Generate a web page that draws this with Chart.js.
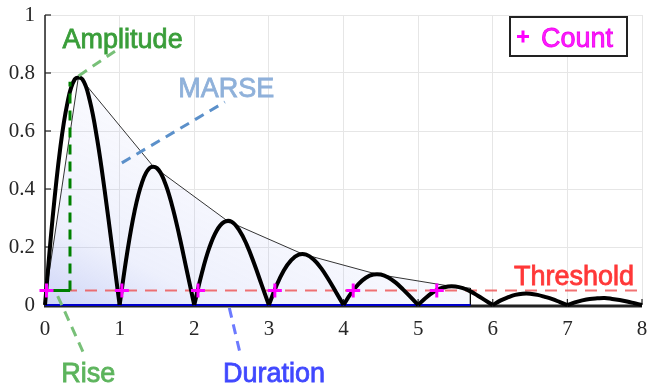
<!DOCTYPE html>
<html lang="en">
<head>
<meta charset="UTF-8">
<title>Hit envelope</title>
<script src="https://cdn.jsdelivr.net/npm/chart.js"></script>
<style>
  html, body { margin: 0; padding: 0; background: #fff; }
  #box { width: 648px; height: 388px; }
</style>
</head>
<body>
<div id="box"><canvas id="grafico" width="648" height="388"></canvas></div>
<script>
// sample positions and rectified signal
const xs = [
  0, 0.1, 0.2, 0.3, 0.4, 0.5, 0.6, 0.7, 0.8, 0.9,
  1, 1.1, 1.2, 1.3, 1.4, 1.5, 1.6, 1.7, 1.8, 1.9,
  2, 2.1, 2.2, 2.3, 2.4, 2.5, 2.6, 2.7, 2.8, 2.9,
  3, 3.1, 3.2, 3.3, 3.4, 3.5, 3.6, 3.7, 3.8, 3.9,
  4, 4.1, 4.2, 4.3, 4.4, 4.5, 4.6, 4.7, 4.8, 4.9,
  5, 5.1, 5.2, 5.3, 5.4, 5.5, 5.6, 5.7, 5.8, 5.9,
  6, 6.1, 6.2, 6.3, 6.4, 6.5, 6.6, 6.7, 6.8, 6.9,
  7, 7.1, 7.2, 7.3, 7.4, 7.5, 7.6, 7.7, 7.8, 7.9,
  8
];
const signal = [
  0, 0.294, 0.532, 0.696, 0.779, 0.779, 0.705, 0.570, 0.394, 0.197,
  0, 0.178, 0.323, 0.422, 0.472, 0.472, 0.427, 0.346, 0.239, 0.119,
  0, 0.108, 0.196, 0.256, 0.286, 0.287, 0.259, 0.210, 0.145, 0.072,
  0, 0.066, 0.119, 0.155, 0.174, 0.174, 0.157, 0.127, 0.088, 0.044,
  0, 0.040, 0.072, 0.094, 0.105, 0.105, 0.095, 0.077, 0.053, 0.027,
  0, 0.024, 0.044, 0.057, 0.064, 0.064, 0.058, 0.047, 0.032, 0.016,
  0, 0.015, 0.026, 0.035, 0.039, 0.039, 0.035, 0.028, 0.020, 0.010,
  0, 0.009, 0.016, 0.021, 0.023, 0.024, 0.021, 0.017, 0.012, 0.006,
  0
];

// envelope through the peaks (MARSE area)
const envX = [0.02, 0.45, 1.45, 2.45, 3.45, 4.45, 5.45, 5.70, 5.70];
const envY = [0.05, 0.79, 0.478, 0.289, 0.176, 0.106, 0.064, 0.058, 0];

// threshold crossings (counts)
const countX = [0.02, 1.03, 2.05, 3.08, 4.13, 5.25];
const countY = [0.05, 0.05, 0.05, 0.05, 0.05, 0.05];

const threshX = [0, 8];
const threshY = [0.05, 0.05];
const durX = [0, 5.7];
const durY = [0, 0];
const riseHX = [0.02, 0.335];
const riseHY = [0.05, 0.05];
const riseVX = [0.335, 0.335];
const riseVY = [0.05, 0.77];

// leader lines of the labels
const ampLeadX = [0.45, 1.0];
const ampLeadY = [0.79, 0.886];
const marseLeadX = [1.03, 2.41];
const marseLeadY = [0.49, 0.70];
const riseLeadX = [0.17, 0.51];
const riseLeadY = [0.031, -0.162];
const durLeadX = [2.47, 2.61];
const durLeadY = [-0.01, -0.162];

const xTicks = [0, 1, 2, 3, 4, 5, 6, 7, 8];
const yTicks = [0, 0.2, 0.4, 0.6, 0.8, 1];

const rotulos = [
  { texto: 'Amplitude', x: 1.04, y: 0.886, cor: '#3a9e3a' },
  { texto: 'MARSE', x: 2.43, y: 0.717, cor: '#8fb1da' },
  { texto: 'Rise', x: 0.58, y: -0.266, cor: '#5cb45c' },
  { texto: 'Duration', x: 3.07, y: -0.266, cor: '#4048ff' },
  { texto: 'Threshold', x: 7.09, y: 0.069, cor: '#ff3838' }
];

function pontos(px, py) {
  return px.map((v, i) => ({ x: v, y: py[i] }));
}

function linha(px, py, cor, largura, traco, ordem) {
  return {
    data: pontos(px, py),
    borderColor: cor,
    borderWidth: largura,
    borderDash: traco,
    pointRadius: 0,
    fill: false,
    tension: 0,
    clip: false,
    order: ordem
  };
}

// one dataset per arch so the cusps stay sharp
const arcos = [];
for (let k = 0; k < 8; k++) {
  arcos.push({
    data: pontos(xs.slice(k * 10, k * 10 + 11), signal.slice(k * 10, k * 10 + 11)),
    borderColor: '#000',
    borderWidth: 4,
    pointRadius: 0,
    tension: 0.4,
    fill: false,
    clip: false,
    order: 5
  });
}

function gradiente(ctx) {
  const chart = ctx.chart;
  const area = chart.chartArea;
  if (!area) return 'rgba(120,135,230,0.2)';
  const sx = chart.scales.x, sy = chart.scales.y;
  const g = chart.ctx.createLinearGradient(
    sx.getPixelForValue(0), sy.getPixelForValue(0),
    sx.getPixelForValue(1.5), sy.getPixelForValue(0.8));
  g.addColorStop(0, 'rgba(110,130,230,0.34)');
  g.addColorStop(0.3, 'rgba(120,140,235,0.13)');
  g.addColorStop(1, 'rgba(140,150,240,0.02)');
  return g;
}

const eixos = {
  id: 'eixos',
  beforeDatasetsDraw(chart) {
    const { ctx, chartArea: a, scales } = chart;
    ctx.save();
    ctx.strokeStyle = '#222';
    ctx.lineWidth = 1.5;
    ctx.beginPath();
    ctx.moveTo(a.left, a.top);
    ctx.lineTo(a.left, a.bottom);
    ctx.stroke();
    ctx.lineWidth = 1.2;
    yTicks.forEach(v => {
      const p = scales.y.getPixelForValue(v);
      ctx.beginPath();
      ctx.moveTo(a.left, p);
      ctx.lineTo(a.left + 6, p);
      ctx.stroke();
    });
    xTicks.forEach(v => {
      const p = scales.x.getPixelForValue(v);
      ctx.beginPath();
      ctx.moveTo(p, a.bottom);
      ctx.lineTo(p, a.bottom - 6);
      ctx.stroke();
    });
    ctx.lineWidth = 3;
    ctx.beginPath();
    ctx.moveTo(a.left - 1, a.bottom + 1);
    ctx.lineTo(a.right, a.bottom + 1);
    ctx.stroke();
    ctx.restore();
  }
};

const textos = {
  id: 'textos',
  afterDatasetsDraw(chart) {
    const { ctx, chartArea: a, scales } = chart;
    ctx.save();
    ctx.font = '27px "Liberation Sans", Arial, sans-serif';
    ctx.textAlign = 'center';
    ctx.textBaseline = 'alphabetic';
    ctx.lineWidth = 0.8;
    rotulos.forEach(r => {
      const px = scales.x.getPixelForValue(r.x);
      const py = scales.y.getPixelForValue(r.y);
      ctx.fillStyle = r.cor;
      ctx.strokeStyle = r.cor;
      ctx.fillText(r.texto, px, py);
      ctx.strokeText(r.texto, px, py);
    });

    // legend box
    const bx = a.right - 132, by = a.top + 2, bw = 117, bh = 39;
    ctx.fillStyle = '#fff';
    ctx.fillRect(bx, by, bw, bh);
    ctx.strokeStyle = '#222';
    ctx.lineWidth = 2;
    ctx.strokeRect(bx, by, bw, bh);
    const cy = by + bh / 2;
    ctx.strokeStyle = '#ff00ff';
    ctx.lineWidth = 3;
    ctx.beginPath();
    ctx.moveTo(bx + 7, cy); ctx.lineTo(bx + 19, cy);
    ctx.moveTo(bx + 13, cy - 6); ctx.lineTo(bx + 13, cy + 6);
    ctx.stroke();
    ctx.fillStyle = '#ff1aff';
    ctx.strokeStyle = '#ee00ee';
    ctx.lineWidth = 0.8;
    ctx.textAlign = 'left';
    ctx.fillText('Count', bx + 31, cy + 10);
    ctx.strokeText('Count', bx + 31, cy + 10);
    ctx.restore();
  }
};

new Chart(document.getElementById('grafico'), {
  type: 'line',
  data: {
    datasets: [
      {
        data: pontos(envX, envY),
        borderColor: '#000',
        borderWidth: 0.8,
        pointRadius: 0,
        tension: 0,
        fill: 'origin',
        backgroundColor: gradiente,
        order: 10
      },
      linha(threshX, threshY, 'rgba(238,80,80,0.8)', 2, [12, 8], 8),
      linha(durX, durY, '#0000cc', 2, [], 7),
      ...arcos,
      linha(riseHX, riseHY, '#008000', 3, [], 4),
      linha(riseVX, riseVY, '#008000', 3, [10, 7], 4),
      linha(ampLeadX, ampLeadY, '#78c078', 3, [10, 7], 3),
      linha(marseLeadX, marseLeadY, '#5b90ca', 3, [10, 7], 3),
      linha(riseLeadX, riseLeadY, '#78c078', 3, [10, 7], 3),
      linha(durLeadX, durLeadY, '#6c7aff', 3, [10, 7], 3),
      {
        data: pontos(countX, countY),
        showLine: false,
        pointStyle: 'cross',
        pointRadius: 7,
        pointBorderWidth: 3,
        pointBorderColor: '#ff00ff',
        pointBackgroundColor: '#ff00ff',
        clip: false,
        order: 1
      }
    ]
  },
  options: {
    responsive: false,
    devicePixelRatio: 1,
    animation: false,
    layout: { autoPadding: false, padding: { top: 15, right: 6, left: 0, bottom: 0 } },
    plugins: { legend: { display: false }, tooltip: { enabled: false } },
    scales: {
      x: {
        type: 'linear',
        min: 0,
        max: 8,
        afterBuildTicks: s => { s.ticks = xTicks.map(v => ({ value: v })); },
        afterFit: s => { s.height = 83; s.paddingLeft = 0; s.paddingRight = 0; },
        ticks: {
          padding: 0,
          color: '#262626',
          font: { family: '"Liberation Serif", "DejaVu Serif", serif', size: 21 }
        },
        grid: { color: '#e6e6e6', drawTicks: true, tickLength: 12, tickColor: 'rgba(0,0,0,0)' },
        border: { display: false }
      },
      y: {
        min: 0,
        max: 1,
        afterBuildTicks: s => { s.ticks = yTicks.map(v => ({ value: v })); },
        afterFit: s => { s.width = 45; s.paddingTop = 0; s.paddingBottom = 0; },
        ticks: {
          padding: 10,
          color: '#262626',
          callback: v => String(+v.toFixed(1)),
          font: { family: '"Liberation Serif", "DejaVu Serif", serif', size: 21 }
        },
        grid: { color: '#e6e6e6', drawTicks: false },
        border: { display: false }
      }
    }
  },
  plugins: [eixos, textos]
});
</script>
</body>
</html>
